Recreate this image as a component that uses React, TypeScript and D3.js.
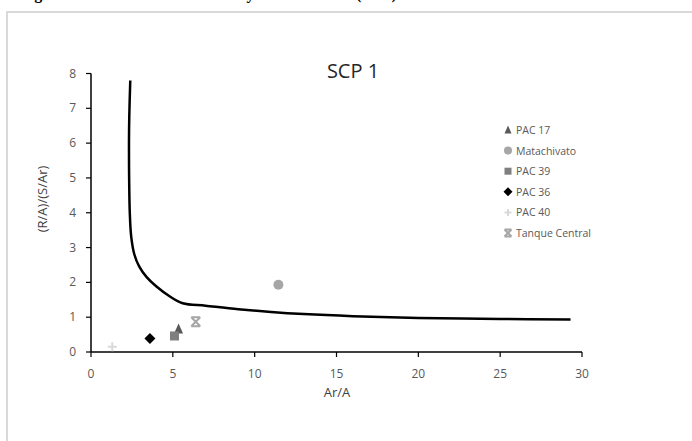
import React from "react";
import * as d3 from "d3";

// envelope curve (Ar/A, (R/A)/(S/Ar))
const curveX = [2.4, 2.34, 2.32, 2.33, 2.37, 2.46, 2.65, 2.95, 3.4, 4.0, 4.8, 5.6, 7, 9, 11, 13, 16, 20, 25, 29.3];
const curveY = [7.8, 6.8, 6.0, 5.0, 4.0, 3.3, 2.8, 2.45, 2.15, 1.88, 1.6, 1.4, 1.33, 1.23, 1.15, 1.09, 1.03, 0.98, 0.95, 0.93];

const seriesNames = ["PAC 17", "Matachivato", "PAC 39", "PAC 36", "PAC 40", "Tanque Central"];
const seriesX = [5.35, 11.45, 5.1, 3.6, 1.3, 6.4];
const seriesY = [0.66, 1.93, 0.46, 0.39, 0.15, 0.87];

const xTicks = [0, 5, 10, 15, 20, 25, 30];
const yTicks = [0, 1, 2, 3, 4, 5, 6, 7, 8];

const markerColors = ["#595959", "#a6a6a6", "#7f7f7f", "#000000", "#d9d9d9", "#a6a6a6"];

const font = "'Open Sans', 'Noto Sans', sans-serif";

function Marker({ i, cx, cy, s }: { i: number; cx: number; cy: number; s: number }) {
  const c = markerColors[i];
  const h = s / 2;
  if (i === 0) {
    return <path d={`M${cx},${cy - h - 1}L${cx + h},${cy + h}L${cx - h},${cy + h}Z`} fill={c} />;
  }
  if (i === 1) return <circle cx={cx} cy={cy} r={h + 0.5} fill={c} />;
  if (i === 2) return <rect x={cx - h} y={cy - h} width={s} height={s} fill={c} />;
  if (i === 3) {
    return <path d={`M${cx},${cy - h - 1}L${cx + h + 1},${cy}L${cx},${cy + h + 1}L${cx - h - 1},${cy}Z`} fill={c} />;
  }
  if (i === 4) {
    return (
      <path d={`M${cx - h},${cy}H${cx + h}M${cx},${cy - h}V${cy + h}`} stroke={c} strokeWidth={2} />
    );
  }
  return (
    <path
      d={`M${cx - h},${cy - h}H${cx + h}M${cx - h},${cy + h}H${cx + h}M${cx - h},${cy - h}L${cx + h},${cy + h}M${cx + h},${cy - h}L${cx - h},${cy + h}`}
      stroke={c}
      strokeWidth={2}
      fill="none"
    />
  );
}

export default function App() {
  const width = 692;
  const height = 441;
  const x = d3.scaleLinear().domain([0, 30]).range([91, 582]);
  const y = d3.scaleLinear().domain([0, 8]).range([352, 73.5]);

  const line = d3
    .line<number>()
    .x((d) => x(curveX[d]))
    .y((d) => y(curveY[d]))
    .curve(d3.curveCatmullRom.alpha(0.5));
  const curvePath = line(d3.range(curveX.length)) || "";

  return (
    <svg
      width={width}
      height={height}
      style={{ position: "absolute", left: 0, top: 0, background: "#fff" }}
      fontFamily={font}
    >
      {/* caption from the page above, only its lowest part shows */}
      <text y={-1} fontFamily="'Liberation Serif', serif" fontWeight="bold" fontSize={16} fill="#000">
        <tspan x={20}>Figure</tspan>
        <tspan x={190}>Gráfico y</tspan>
        <tspan x={356}>(SCP)</tspan>
      </text>

      {/* chart frame */}
      <rect x={7} y={12} width={700} height={440} fill="#fff" stroke="#d9d9d9" strokeWidth={2} />

      {/* title */}
      <text x={353} y={78} textAnchor="middle" fontSize={20} fill="#262626">
        SCP 1
      </text>

      {/* y axis */}
      <line x1={x(0)} x2={x(0)} y1={y(0)} y2={y(8)} stroke="#000" strokeWidth={1.5} />
      {yTicks.map((t) => (
        <g key={"y" + t}>
          <line x1={x(0) - 5} x2={x(0)} y1={y(t)} y2={y(t)} stroke="#000" strokeWidth={1.2} />
          <text x={x(0) - 15} y={y(t) + 4} textAnchor="end" fontSize={12} fill="#595959">
            {t}
          </text>
        </g>
      ))}

      {/* x axis */}
      <line x1={x(0)} x2={x(30)} y1={y(0)} y2={y(0)} stroke="#000" strokeWidth={1.5} />
      {xTicks.map((t) => (
        <g key={"x" + t}>
          <line x1={x(t)} x2={x(t)} y1={y(0)} y2={y(0) + 5} stroke="#000" strokeWidth={1.2} />
          <text x={x(t)} y={y(0) + 26} textAnchor="middle" fontSize={12} fill="#595959">
            {t}
          </text>
        </g>
      ))}

      <text x={337} y={397} textAnchor="middle" fontSize={13} fill="#404040">
        Ar/A
      </text>
      <text
        transform={`translate(47, 199) rotate(-90)`}
        textAnchor="middle"
        fontSize={13}
        fill="#404040"
      >
        (R/A)/(S/Ar)
      </text>

      {/* envelope line */}
      <path d={curvePath} fill="none" stroke="#000" strokeWidth={2.5} />

      {/* sample points */}
      {seriesNames.map((n, i) => (
        <Marker key={n} i={i} cx={x(seriesX[i])} cy={y(seriesY[i])} s={9} />
      ))}

      {/* legend */}
      {seriesNames.map((n, i) => {
        const ly = 130 + i * 20.6;
        return (
          <g key={"l" + n}>
            <Marker i={i} cx={508} cy={ly} s={7} />
            <text x={516} y={ly + 4} fontSize={10.5} fill="#595959">
              {n}
            </text>
          </g>
        );
      })}
    </svg>
  );
}
